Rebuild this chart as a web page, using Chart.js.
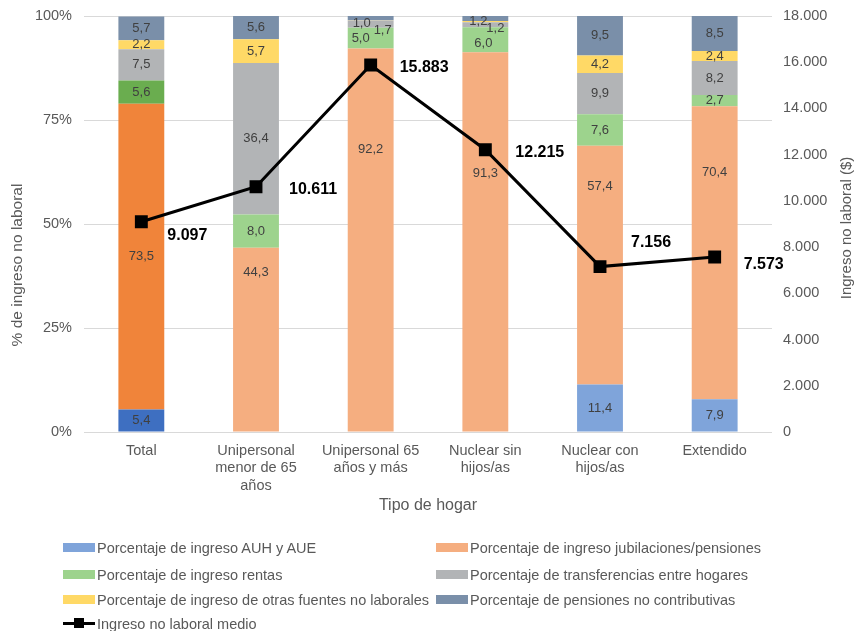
<!DOCTYPE html>
<html>
<head>
<meta charset="utf-8">
<script src="https://cdn.jsdelivr.net/npm/chart.js@4.4.1/dist/chart.umd.min.js"></script>
<style>
body { margin:0; background:#fff; font-family:'Liberation Sans', Arial, sans-serif; }
#wrap { position:relative; width:856px; height:631px; }
.leg { position:absolute; font-size:14.5px; color:#595959; white-space:nowrap; line-height:16px; }
.leg i { display:inline-block; width:32px; height:9px; margin-right:2px; vertical-align:1px; }
.leg b { display:inline-block; position:relative; width:32px; height:3px; background:#000; margin-right:2px; vertical-align:4px; }
.leg b:after { content:''; position:absolute; left:11px; top:-4px; width:10px; height:10px; background:#000; }
</style>
</head>
<body>
<div id="wrap">
<canvas id="c" width="856" height="631"></canvas>
<div class="leg" style="left:63px;top:540px"><i style="background:#7FA4DA"></i>Porcentaje de ingreso AUH y AUE</div>
<div class="leg" style="left:436px;top:540px"><i style="background:#F5AE80"></i>Porcentaje de ingreso jubilaciones/pensiones</div>
<div class="leg" style="left:63px;top:567px"><i style="background:#9DD38D"></i>Porcentaje de ingreso rentas</div>
<div class="leg" style="left:436px;top:567px"><i style="background:#B2B4B6"></i>Porcentaje de transferencias entre hogares</div>
<div class="leg" style="left:63px;top:592px"><i style="background:#FFD966"></i>Porcentaje de ingreso de otras fuentes no laborales</div>
<div class="leg" style="left:436px;top:592px"><i style="background:#7A8FA9"></i>Porcentaje de pensiones no contributivas</div>
<div class="leg" style="left:63px;top:616px"><b></b>Ingreso no laboral medio</div>
</div>
<script>
// categorias y series
var categorias = [['Total'], ['Unipersonal', 'menor de 65', 'años'], ['Unipersonal 65', 'años y más'], ['Nuclear sin', 'hijos/as'], ['Nuclear con', 'hijos/as'], ['Extendido']];
var auh = [5.4, 0, 0, 0, 11.4, 7.9];
var jubilaciones = [73.5, 44.3, 92.2, 91.3, 57.4, 70.4];
var rentas = [5.6, 8.0, 5.0, 6.0, 7.6, 2.7];
var transferencias = [7.5, 36.4, 1.7, 1.2, 9.9, 8.2];
var otras = [2.2, 5.7, 0.1, 0.3, 4.2, 2.4];
var pensNoContrib = [5.7, 5.6, 1.0, 1.2, 9.5, 8.5];
var ingresoMedio = [9097, 10611, 15883, 12215, 7156, 7573];
var pctTicks = [0, 25, 50, 75, 100];

function miles(v) {
    return String(v).replace(/\B(?=(\d{3})+(?!\d))/g, '.');
}
function coma(v) {
    return v.toFixed(1).replace('.', ',');
}
// el Total va en tonos mas oscuros
function col(dark, light) {
    return categorias.map(function(c, i) { return i === 0 ? dark : light; });
}

// etiquetas corridas a mano (como en el original), clave: dataset-categoria
var corrimientos = {
    '3-2': [-10, 0], '4-2': [12, 6], '6-2': [-9, 5],
    '3-3': [-2, 4], '4-3': [10, 4], '6-3': [-7, 3]
};
var corrJub = [0, -67, -91, -68, -79, -80];
var corrLinea = [[26, 14], [33, 3], [29, 3], [30, 3], [31, -24], [29, 8]];
var FUENTE = '"Liberation Sans", Arial, sans-serif';

var etiquetas = {
    id: 'etiquetas',
    afterDatasetsDraw: function(chart) {
        var ctx = chart.ctx;
        ctx.save();
        ctx.textBaseline = 'middle';
        chart.data.datasets.forEach(function(ds, i) {
            var meta = chart.getDatasetMeta(i);
            if (ds.type === 'line') {
                ctx.font = 'bold 16px ' + FUENTE;
                ctx.fillStyle = '#000';
                ctx.textAlign = 'left';
                meta.data.forEach(function(p, j) {
                    ctx.fillText(miles(ds.data[j]), p.x + corrLinea[j][0], p.y + corrLinea[j][1]);
                });
                return;
            }
            ctx.font = '13px ' + FUENTE;
            ctx.fillStyle = '#404040';
            ctx.textAlign = 'center';
            meta.data.forEach(function(b, j) {
                var v = ds.data[j];
                if (v < 0.5) return;
                var o = corrimientos[i + '-' + j] || [0, 0];
                if (i === 2) o = [0, corrJub[j]];
                ctx.fillText(coma(v), b.x + o[0], (b.y + b.base) / 2 + o[1]);
            });
        });
        ctx.restore();
    },
    afterDraw: function(chart) {
        // titulos de ejes
        var ctx = chart.ctx;
        ctx.save();
        ctx.fillStyle = '#595959';
        ctx.textAlign = 'center';
        ctx.textBaseline = 'middle';
        ctx.font = '16px ' + FUENTE;
        ctx.fillText('Tipo de hogar', 428, 506);
        ctx.font = '15.5px ' + FUENTE;
        ctx.translate(18, 265);
        ctx.rotate(-Math.PI / 2);
        ctx.fillText('% de ingreso no laboral', 0, 0);
        ctx.restore();
        ctx.save();
        ctx.fillStyle = '#595959';
        ctx.textAlign = 'center';
        ctx.textBaseline = 'middle';
        ctx.font = '15px ' + FUENTE;
        ctx.translate(847, 228);
        ctx.rotate(-Math.PI / 2);
        ctx.fillText('Ingreso no laboral ($)', 0, 0);
        ctx.restore();
    }
};

Chart.defaults.font.family = FUENTE;
Chart.defaults.color = '#595959';

function fijarAncho(s) {
    s.width = 84;
    s.paddingTop = 0;
    s.paddingBottom = 0;
}

new Chart(document.getElementById('c'), {
    type: 'bar',
    data: {
        labels: categorias,
        datasets: [
            { type: 'line', label: 'Ingreso no laboral medio', data: ingresoMedio, yAxisID: 'y1', order: 0,
              borderColor: '#000', backgroundColor: '#000', borderWidth: 3, pointStyle: 'rect', pointRadius: 7, tension: 0 },
            { label: 'Porcentaje de ingreso AUH y AUE', data: auh, backgroundColor: col('#3E6FC1', '#7FA4DA'), order: 1 },
            { label: 'Porcentaje de ingreso jubilaciones/pensiones', data: jubilaciones, backgroundColor: col('#F0843A', '#F5AE80'), order: 1 },
            { label: 'Porcentaje de ingreso rentas', data: rentas, backgroundColor: col('#6AAD4F', '#9DD38D'), order: 1 },
            { label: 'Porcentaje de transferencias entre hogares', data: transferencias, backgroundColor: '#B2B4B6', order: 1 },
            { label: 'Porcentaje de ingreso de otras fuentes no laborales', data: otras, backgroundColor: '#FFD966', order: 1 },
            { label: 'Porcentaje de pensiones no contributivas', data: pensNoContrib, backgroundColor: '#7A8FA9', order: 1 }
        ]
    },
    options: {
        responsive: false,
        animation: false,
        layout: { padding: { top: 16, bottom: 0, left: 0, right: 0 } },
        datasets: { bar: { categoryPercentage: 1, barPercentage: 0.4 } },
        plugins: { legend: { display: false }, tooltip: { enabled: false } },
        scales: {
            x: {
                stacked: true,
                grid: { display: false },
                border: { display: false },
                ticks: { font: { size: 14.5 }, padding: 2, maxRotation: 0 },
                afterFit: function(s) { s.height = 199; s.paddingLeft = 0; s.paddingRight = 0; }
            },
            y: {
                stacked: true, min: 0, max: 100,
                afterBuildTicks: function(s) { s.ticks = pctTicks.map(function(v) { return { value: v }; }); },
                ticks: { font: { size: 14.5 }, padding: 12, callback: function(v) { return v + '%'; } },
                grid: { color: '#D9D9D9', drawTicks: false, lineWidth: 1 },
                border: { display: false },
                afterFit: fijarAncho
            },
            y1: {
                position: 'right', min: 0, max: 18000,
                ticks: { stepSize: 2000, font: { size: 14.5 }, padding: 11, callback: function(v) { return miles(v); } },
                grid: { display: false, drawTicks: false },
                border: { display: false },
                afterFit: fijarAncho
            }
        }
    },
    plugins: [etiquetas]
});
</script>
</body>
</html>
